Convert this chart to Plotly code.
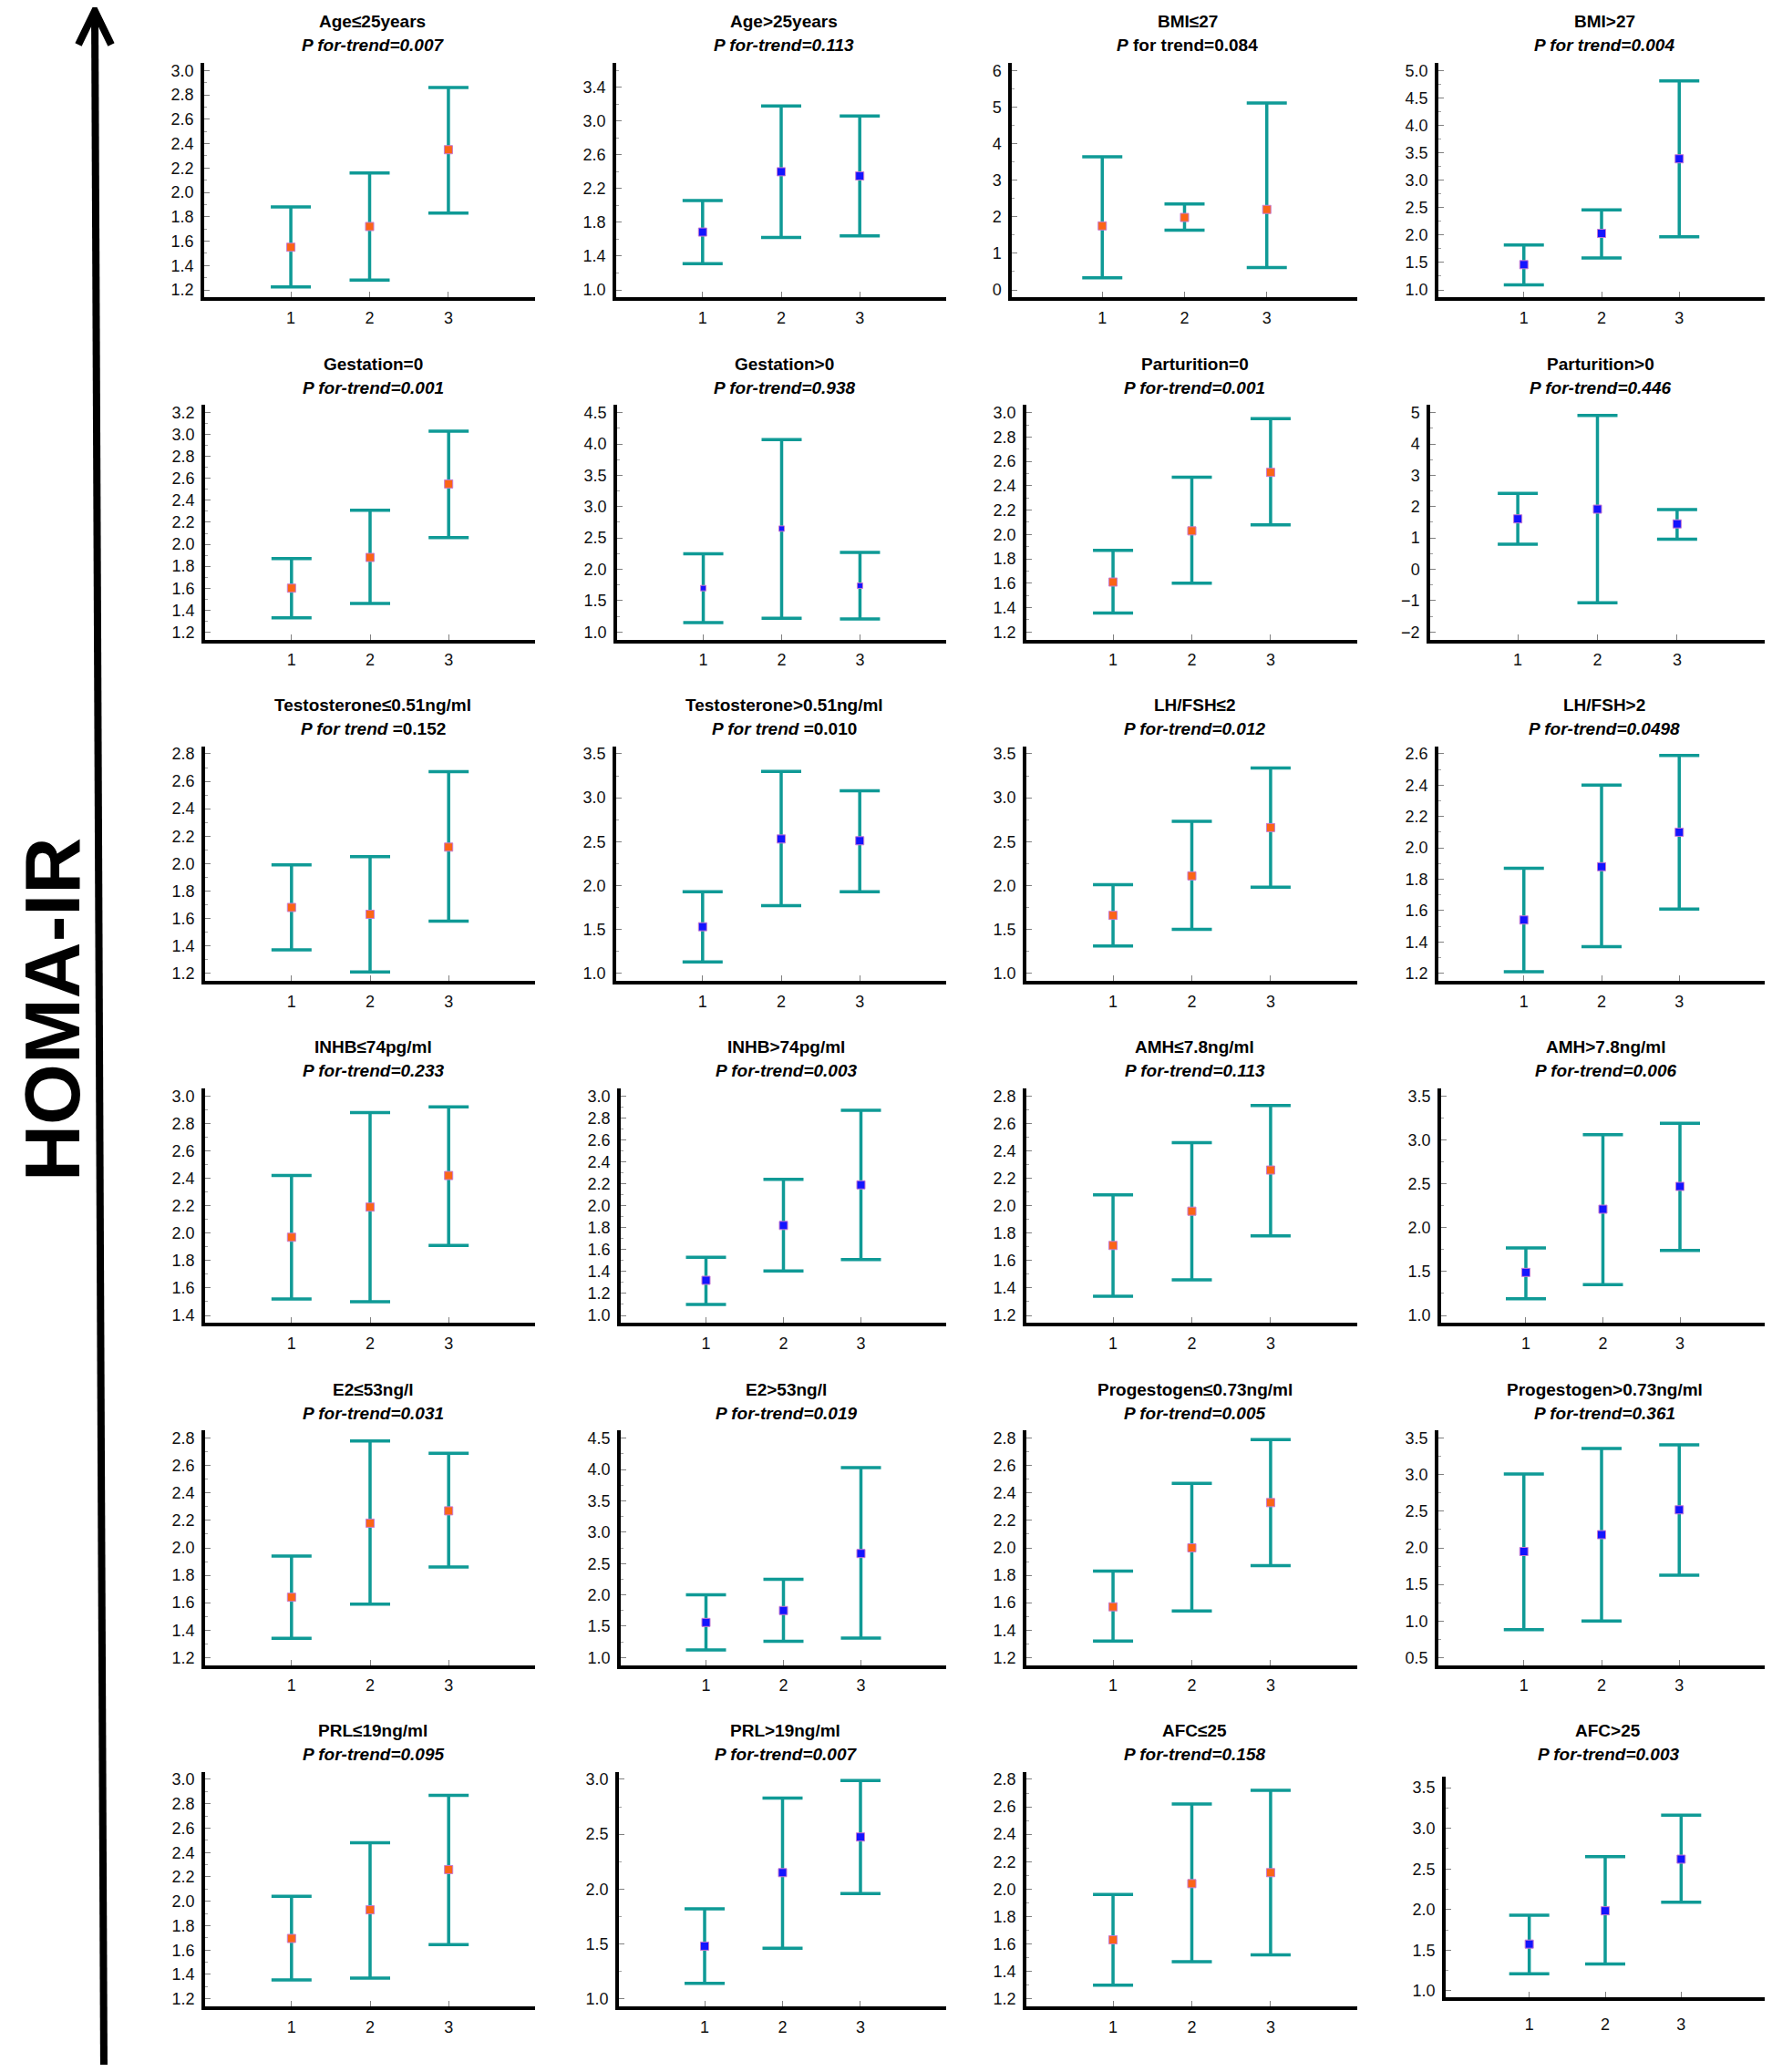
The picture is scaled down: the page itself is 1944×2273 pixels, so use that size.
import plotly.graph_objects as go

W, H = 1944, 2273
OFF = 8  # default page body margin of the written html
FW, FH = W - 2 * OFF, H - 2 * OFF

# ---------------- data ----------------
group_labels = [
    "Age≤25years", "Age>25years", "BMI≤27", "BMI>27",
    "Gestation=0", "Gestation>0", "Parturition=0", "Parturition>0",
    "Testosterone≤0.51ng/ml", "Testosterone>0.51ng/ml", "LH/FSH≤2", "LH/FSH>2",
    "INHB≤74pg/ml", "INHB>74pg/ml", "AMH≤7.8ng/ml", "AMH>7.8ng/ml",
    "E2≤53ng/l", "E2>53ng/l", "Progestogen≤0.73ng/ml", "Progestogen>0.73ng/ml",
    "PRL≤19ng/ml", "PRL>19ng/ml", "AFC≤25", "AFC>25",
]
p_italic = [
    "P for-trend=0.007", "P for-trend=0.113", "P", "P for trend=0.004",
    "P for-trend=0.001", "P for-trend=0.938", "P for-trend=0.001", "P for-trend=0.446",
    "P for trend", "P for trend", "P for-trend=0.012", "P for-trend=0.0498",
    "P for-trend=0.233", "P for-trend=0.003", "P for-trend=0.113", "P for-trend=0.006",
    "P for-trend=0.031", "P for-trend=0.019", "P for-trend=0.005", "P for-trend=0.361",
    "P for-trend=0.095", "P for-trend=0.007", "P for-trend=0.158", "P for-trend=0.003",
]
p_regular = [
    "", "", " for trend=0.084", "",
    "", "", "", "",
    " =0.152", " =0.010", "", "",
    "", "", "", "",
    "", "", "", "",
    "", "", "", "",
]
x_groups = [1, 2, 3]
x_tick_labels = ["1", "2", "3"]

means = [
    [1.55, 1.72, 2.35], [1.685, 2.40, 2.35], [1.75, 1.98, 2.20], [1.46, 2.03, 3.39],
    [1.60, 1.88, 2.55], [1.70, 2.65, 1.74], [1.61, 2.03, 2.51], [1.61, 1.92, 1.45],
    [1.68, 1.63, 2.12], [1.53, 2.53, 2.51], [1.66, 2.11, 2.66], [1.54, 1.88, 2.10],
    [1.97, 2.19, 2.42], [1.32, 1.82, 2.19], [1.71, 1.96, 2.26], [1.49, 2.21, 2.47],
    [1.64, 2.18, 2.27], [1.56, 1.75, 2.66], [1.57, 2.00, 2.33], [1.95, 2.18, 2.52],
    [1.695, 1.93, 2.26], [1.48, 2.15, 2.475], [1.63, 2.04, 2.12], [1.575, 1.985, 2.62],
]
lowers = [
    [1.225, 1.28, 1.83], [1.31, 1.62, 1.64], [0.33, 1.63, 0.61], [1.09, 1.58, 1.97],
    [1.33, 1.46, 2.06], [1.15, 1.22, 1.21], [1.355, 1.60, 2.08], [0.80, -1.07, 0.96],
    [1.37, 1.21, 1.58], [1.13, 1.77, 1.93], [1.31, 1.50, 1.98], [1.21, 1.37, 1.61],
    [1.52, 1.50, 1.91], [1.10, 1.405, 1.51], [1.34, 1.46, 1.78], [1.19, 1.35, 1.74],
    [1.34, 1.59, 1.86], [1.12, 1.26, 1.31], [1.32, 1.54, 1.87], [0.88, 1.00, 1.625],
    [1.355, 1.37, 1.645], [1.14, 1.46, 1.96], [1.30, 1.47, 1.52], [1.21, 1.33, 2.09],
]
uppers = [
    [1.88, 2.16, 2.86], [2.06, 3.18, 3.06], [3.64, 2.35, 5.11], [1.82, 2.46, 4.81],
    [1.87, 2.31, 3.03], [2.25, 4.07, 2.27], [1.87, 2.47, 2.95], [2.42, 4.91, 1.91],
    [1.99, 2.05, 2.67], [1.93, 3.30, 3.08], [2.01, 2.73, 3.34], [1.87, 2.40, 2.59],
    [2.42, 2.88, 2.92], [1.53, 2.24, 2.87], [2.08, 2.46, 2.73], [1.77, 3.06, 3.19],
    [1.94, 2.78, 2.69], [2.00, 2.25, 4.03], [1.83, 2.47, 2.79], [3.01, 3.36, 3.41],
    [2.04, 2.48, 2.87], [1.82, 2.83, 2.99], [1.96, 2.62, 2.72], [1.93, 2.65, 3.16],
]
# y tick label scales (first tick, last tick, step)
tick_lo = [1.2, 1.0, 0, 1.0, 1.2, 1.0, 1.2, -2, 1.2, 1.0, 1.0, 1.2,
           1.4, 1.0, 1.2, 1.0, 1.2, 1.0, 1.2, 0.5, 1.2, 1.0, 1.2, 1.0]
tick_hi = [3.0, 3.6, 6, 5.0, 3.2, 4.5, 3.0, 5, 2.8, 3.5, 3.5, 2.6,
           3.0, 3.0, 2.8, 3.5, 2.8, 4.5, 2.8, 3.5, 3.0, 3.0, 2.8, 3.5]
tick_step = [0.2, 0.4, 1, 0.5, 0.2, 0.5, 0.2, 1, 0.2, 0.5, 0.5, 0.2,
             0.2, 0.2, 0.2, 0.5, 0.2, 0.5, 0.2, 0.5, 0.2, 0.5, 0.2, 0.5]
y_axis_title = "HOMA-IR"

# ---------------- layout geometry (reference pixels) ----------------
row_tops = [68, 444, 819, 1195, 1571, 1946]
panel_h = 258
col_lefts = [
    [224, 676, 1110, 1578],
    [225, 677, 1126, 1569],
    [225, 676, 1126, 1578],
    [225, 681, 1126, 1581],
    [225, 681, 1126, 1578],
    [225, 679, 1126, 1586],
]
col_rights = [587, 1038, 1489, 1936]

TEAL = "#0f9a96"
ORANGE = "#fb6416"
BLUE = "#1414ff"
FONT = "Liberation Sans, Arial, sans-serif"


def px(x):
    return (x - OFF) / FW


def py(y):
    return 1 - (y - OFF) / FH


fig = go.Figure()
annotations = []
layout_axes = {}

for i in range(24):
    r, c = divmod(i, 4)
    n = "" if i == 0 else str(i + 1)
    left = col_lefts[r][c]
    right = col_rights[c]
    top = row_tops[r]
    bottom = top + panel_h
    lo, hi = tick_lo[i], tick_hi[i]
    span = hi - lo
    yr = [lo - 0.035 * span, hi + 0.035 * span]
    xlab_standoff = 3
    if i == 23:
        top, bottom, right = 1951, 2194, 1936
        yr = [lo - 0.08, hi + 0.14]
        xlab_standoff = 10
    color = ORANGE if c % 2 == 0 else BLUE
    msize = 6 if i == 5 else 9

    m = means[i]
    err_up = [u - v for u, v in zip(uppers[i], m)]
    err_dn = [v - l for v, l in zip(m, lowers[i])]

    fig.add_trace(go.Scatter(
        x=x_groups, y=m, mode="markers",
        xaxis="x" + n, yaxis="y" + n, showlegend=False,
        marker=dict(symbol="square", size=msize, color=color,
                    line=dict(color="#c77bd0", width=1)),
        error_y=dict(type="data", symmetric=False, array=err_up,
                     arrayminus=err_dn, color=TEAL, thickness=3.5, width=22),
    ))

    fmt = "d" if tick_step[i] >= 1 else ".1f"
    layout_axes["xaxis" + n] = dict(
        domain=[px(left), min(1.0, px(right))], anchor="y" + n,
        range=[-0.1, 4.1], tickvals=x_groups, ticktext=x_tick_labels,
        ticks="inside", ticklen=6, tickwidth=1, tickcolor="#808080",
        showline=True, linecolor="black", linewidth=4,
        showgrid=False, zeroline=False, fixedrange=True,
        tickfont=dict(family=FONT, size=18, color="#111"),
        ticklabelstandoff=xlab_standoff,
    )
    layout_axes["yaxis" + n] = dict(
        domain=[py(bottom), py(top)], anchor="x" + n,
        range=yr, tick0=lo, dtick=tick_step[i], tickformat=fmt,
        ticks="inside", ticklen=6, tickwidth=1, tickcolor="#808080",
        minor=dict(ticks="inside", ticklen=3, tickcolor="#a0a0a0",
                   tick0=lo, dtick=tick_step[i] / 2),
        showline=True, linecolor="black", linewidth=3.5,
        showgrid=False, zeroline=False, fixedrange=True,
        tickfont=dict(family=FONT, size=18, color="#111"),
        ticklabelstandoff=4,
    )

    cx = px((left + right) / 2 + 3)
    annotations.append(dict(
        x=cx, y=py(row_tops[r] - 45), xref="paper", yref="paper",
        text="<b>" + group_labels[i] + "</b>", showarrow=False,
        xanchor="center", yanchor="middle",
        font=dict(family=FONT, size=19, color="black"),
    ))
    annotations.append(dict(
        x=cx, y=py(row_tops[r] - 19), xref="paper", yref="paper",
        text="<b><i>" + p_italic[i] + "</i>" + p_regular[i] + "</b>",
        showarrow=False, xanchor="center", yanchor="middle",
        font=dict(family=FONT, size=19, color="black"),
    ))

annotations.append(dict(
    x=px(57), y=py(1109), xref="paper", yref="paper",
    text="<b>" + y_axis_title + "</b>", textangle=-90, showarrow=False,
    xanchor="center", yanchor="middle",
    font=dict(family=FONT, size=86, color="black"),
))

shapes = [
    dict(type="line", xref="paper", yref="paper",
         x0=px(114), y0=py(2280), x1=px(104), y1=py(12),
         line=dict(color="black", width=8)),
    dict(type="path", xref="paper", yref="paper",
         path="M %f,%f L %f,%f L %f,%f" % (px(86), py(48), px(104), py(11),
                                           px(122), py(48)),
         line=dict(color="black", width=8)),
]

fig.update_layout(
    width=FW, height=FH,
    margin=dict(l=0, r=0, t=0, b=0),
    paper_bgcolor="white", plot_bgcolor="white",
    annotations=annotations, shapes=shapes,
    showlegend=False,
    **layout_axes,
)

fig.write_html("out.html")
